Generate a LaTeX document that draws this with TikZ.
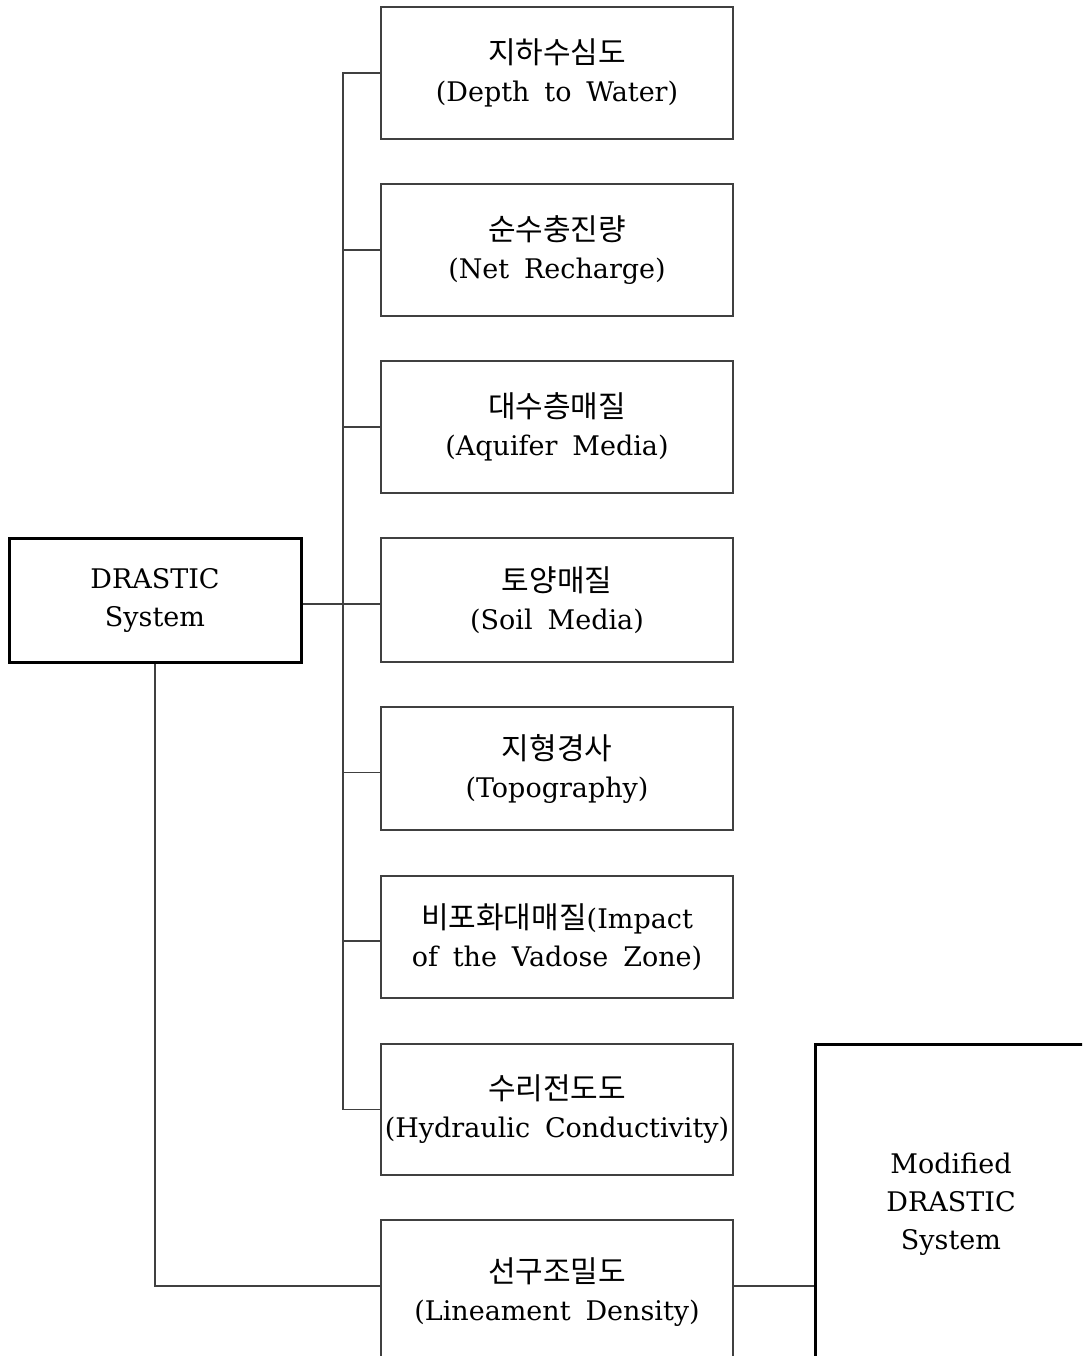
\documentclass[tikz,border=0pt]{standalone}
\usepackage{fontspec}
\setmainfont{DejaVu Serif}
\newfontfamily\kr{Noto Sans CJK KR}
\newcommand{\krl}[1]{{\kr\fontsize{30}{38}\selectfont #1}}
\newcommand{\widesp}{\spaceskip=0.55em\relax}
\newcommand{\lblfont}{\fontsize{27}{38}\selectfont\widesp}
\begin{document}
\begin{tikzpicture}[x=1pt,y=-1pt,
  lbl/.style={font=\lblfont, align=center, inner sep=0pt},
  childbox/.style={lbl, draw=black!75, line width=1.3pt, minimum width=352pt, minimum height=132pt},
  mainbox/.style={lbl, draw=black, line width=3pt},
  conn/.style={draw=black!75, line width=1.3pt}]
\useasboundingbox (0,0) rectangle (1082,1356);
\clip (0,0) rectangle (1082,1356);
\node[childbox] (b1) at (557,73) {\krl{지하수심도}\\(Depth to Water)};
\node[childbox] (b2) at (557,250) {\krl{순수충진량}\\(Net Recharge)};
\node[childbox] (b3) at (557,427) {\krl{대수층매질}\\(Aquifer Media)};
\node[childbox, minimum height=124pt] (b4) at (557,600) {\krl{토양매질}\\(Soil Media)};
\node[childbox, minimum height=123pt] (b5) at (557,768.5) {\krl{지형경사}\\(Topography)};
\node[childbox, minimum height=122pt] (b6) at (557,937) {\krl{비포화대매질}(Impact\\of the Vadose Zone)};
\node[childbox, minimum height=131pt] (b7) at (557,1109.5) {\krl{수리전도도}\\(Hydraulic Conductivity)};
\node[childbox, minimum height=144pt] (b8) at (557,1292) {\krl{선구조밀도}\\(Lineament Density)};
\node[mainbox, minimum width=292pt, minimum height=124pt] (d) at (155,600) {DRASTIC\\System};
\node[mainbox, minimum width=272pt, minimum height=320pt] (m) at (951,1204) {Modified\\DRASTIC\\System};
\coordinate (tk) at (343,0);
\draw[conn] (b1.west) -- (b1.west -| tk) -- (b7.west -| tk) -- (b7.west);
\foreach \b in {b2,b3} \draw[conn] (\b.west -| tk) -- (\b.west);
\foreach \b in {b5,b6} \draw[conn] ([yshift=-4pt]\b.west -| tk) -- ([yshift=-4pt]\b.west);
\draw[conn] ([yshift=-4pt]d.east) -- ([yshift=-4pt]d.east -| b4.west);
\draw[conn] (d.south) |- ([yshift=6pt]b8.west);
\draw[conn] ([yshift=6pt]b8.east) -- ([yshift=6pt]b8.east -| m.west);
\end{tikzpicture}
\end{document}
